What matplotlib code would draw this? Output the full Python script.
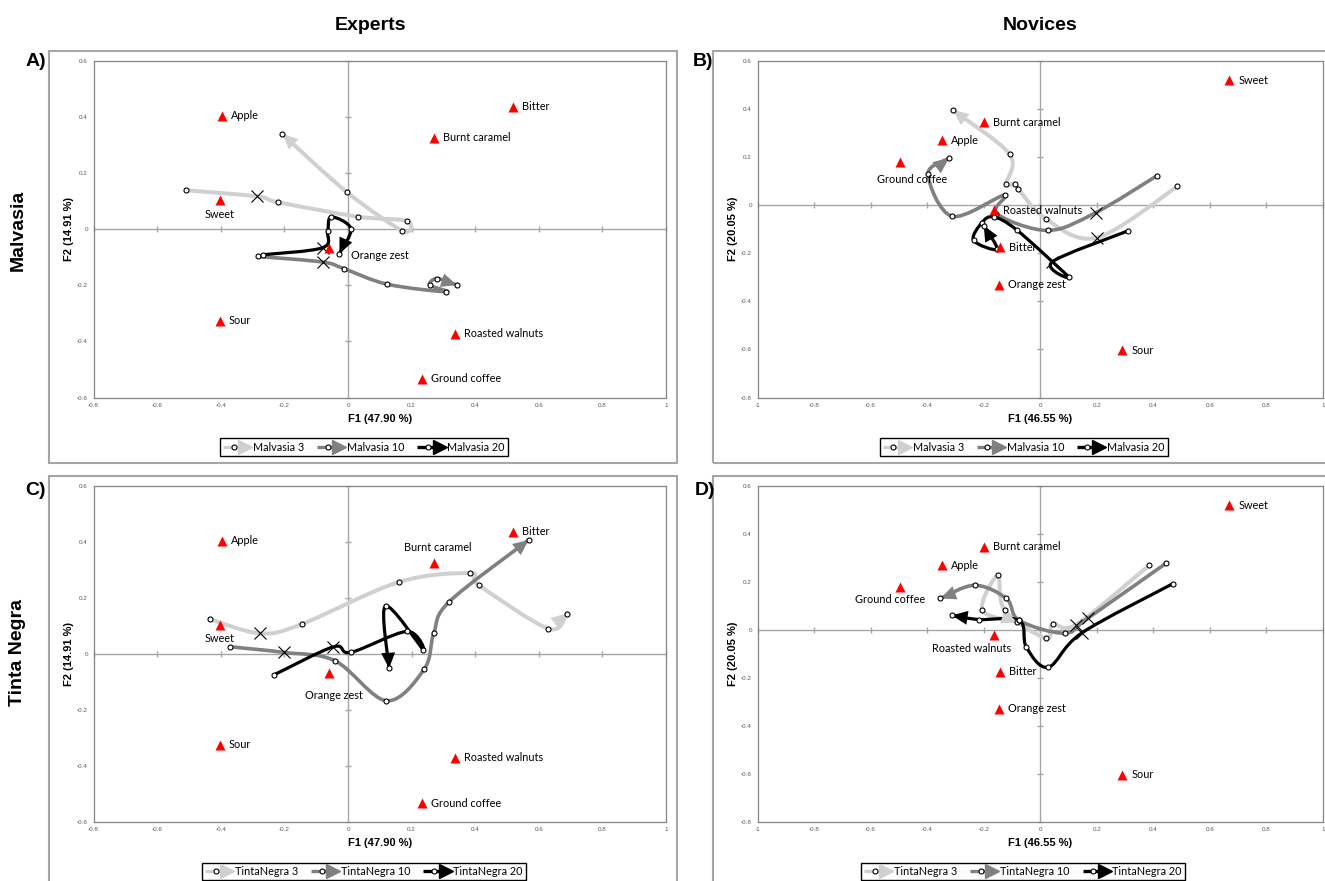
import numpy as np
import matplotlib

matplotlib.use('Agg')
import matplotlib.pyplot as plt
from matplotlib.path import Path
from matplotlib.patches import PathPatch, Rectangle
from matplotlib.lines import Line2D
from matplotlib.legend_handler import HandlerBase
from matplotlib.ticker import FuncFormatter

plt.rcParams['font.family'] = ['Liberation Sans', 'DejaVu Sans']
plt.rcParams['axes.unicode_minus'] = False

# ============================================================
# data
# ============================================================
attr_names = ['Apple', 'Bitter', 'Burnt caramel', 'Sweet', 'Orange zest',
              'Sour', 'Roasted walnuts', 'Ground coffee']

# experts (panels A, C)
exp_attr_x = [-0.395, 0.518, 0.270, -0.404, -0.061, -0.404, 0.336, 0.232]
exp_attr_y = [0.405, 0.437, 0.326, 0.104, -0.068, -0.326, -0.372, -0.534]
# novices (panels B, D)
nov_attr_x = [-0.346, -0.141, -0.198, 0.668, -0.145, 0.290, -0.163, -0.495]
nov_attr_y = [0.270, -0.175, 0.346, 0.520, -0.330, -0.604, -0.020, 0.180]

# trajectories; the 2nd point of every series is the "x" marker
mal3_exp_x = [-0.508, -0.286, -0.219, 0.030, 0.184, 0.171, -0.003, -0.207]
mal3_exp_y = [0.139, 0.117, 0.096, 0.045, 0.030, -0.005, 0.132, 0.340]
mal10_exp_x = [-0.282, -0.080, -0.012, 0.123, 0.309, 0.257, 0.280, 0.342]
mal10_exp_y = [-0.097, -0.117, -0.141, -0.196, -0.223, -0.199, -0.176, -0.199]
mal20_exp_x = [-0.268, -0.080, -0.064, -0.053, 0.009, -0.027]
mal20_exp_y = [-0.091, -0.066, -0.007, 0.044, 0.002, -0.087]

mal3_nov_x = [0.485, 0.200, 0.020, -0.079, -0.091, -0.120, -0.108, -0.309]
mal3_nov_y = [0.078, -0.135, -0.057, 0.069, 0.090, 0.090, 0.212, 0.396]
mal10_nov_x = [0.412, 0.196, 0.026, -0.155, -0.126, -0.312, -0.397, -0.323]
mal10_nov_y = [0.122, -0.031, -0.105, -0.035, 0.042, -0.046, 0.129, 0.195]
mal20_nov_x = [0.310, 0.042, 0.100, -0.082, -0.165, -0.206, -0.236, -0.153, -0.200]
mal20_nov_y = [-0.107, -0.236, -0.297, -0.104, -0.049, -0.072, -0.146, -0.183, -0.085]

tn3_exp_x = [-0.435, -0.276, -0.146, 0.161, 0.384, 0.411, 0.630, 0.688]
tn3_exp_y = [0.124, 0.073, 0.106, 0.257, 0.288, 0.246, 0.090, 0.144]
tn10_exp_x = [-0.370, -0.202, -0.041, 0.121, 0.240, 0.270, 0.319, 0.568]
tn10_exp_y = [0.025, 0.005, -0.025, -0.168, -0.054, 0.076, 0.187, 0.407]
tn20_exp_x = [-0.232, -0.046, 0.009, 0.186, 0.236, 0.118, 0.129]
tn20_exp_y = [-0.075, 0.025, 0.005, 0.080, 0.014, 0.171, -0.052]

tn3_nov_x = [0.386, 0.127, 0.044, 0.020, -0.126, -0.150, -0.205, -0.082]
tn3_nov_y = [0.270, 0.022, 0.026, -0.036, 0.082, 0.227, 0.082, 0.033]
tn10_nov_x = [0.444, 0.170, 0.086, -0.074, -0.120, -0.232, -0.353]
tn10_nov_y = [0.277, 0.050, -0.014, 0.039, 0.131, 0.186, 0.131]
tn20_nov_x = [0.468, 0.147, 0.029, -0.049, -0.074, -0.217, -0.312]
tn20_nov_y = [0.192, -0.013, -0.156, -0.073, 0.039, 0.043, 0.060]

# ============================================================
# styles
# ============================================================
LIGHT, MID, DARK = '#d0d0d0', '#808080', '#000000'
LW = {LIGHT: 2.9, MID: 2.6, DARK: 2.3}

# label placement (offset in pixels, ha)
lab_default = (9, 0, 'left')
lab_A = {'Sweet': (0, -14, 'center'), 'Orange zest': (22, -7, 'left')}
lab_C = {'Sweet': (0, -14, 'center'), 'Burnt caramel': (4, 15, 'center'),
         'Orange zest': (5, -23, 'center')}
lab_B = {'Ground coffee': (12, -18, 'center')}
lab_D = {'Ground coffee': (-10, -13, 'center'), 'Roasted walnuts': (-23, -14, 'center')}


def smooth_path(xs, ys):
    # Catmull-Rom through the points, as cubic bezier pieces
    p = np.column_stack([xs, ys])
    ext = np.vstack([p[0], p, p[-1]])
    verts, codes = [p[0]], [Path.MOVETO]
    for i in range(len(p) - 1):
        p0, p1, p2, p3 = ext[i], ext[i + 1], ext[i + 2], ext[i + 3]
        verts += [p1 + (p2 - p0) / 6, p2 - (p3 - p1) / 6, p2]
        codes += [Path.CURVE4] * 3
    return Path(verts, codes)


def draw_series(ax, xs, ys, color):
    ax.add_patch(PathPatch(smooth_path(xs, ys), facecolor='none', edgecolor=color,
                           lw=LW[color], capstyle='round', joinstyle='round', zorder=2))
    end = np.array([xs[-1], ys[-1]])
    prev = np.array([xs[-2], ys[-2]])
    ax.annotate('', xy=end, xytext=end - 0.04 * (end - prev),
                arrowprops=dict(arrowstyle='-|>,head_length=0.8,head_width=0.36',
                                color=color, lw=0, mutation_scale=14,
                                shrinkA=0, shrinkB=0), zorder=3)
    mx = [v for i, v in enumerate(xs) if i != 1]
    my = [v for i, v in enumerate(ys) if i != 1]
    ax.plot(mx, my, 'o', ms=3.6, mfc='white', mec='black', mew=0.8, zorder=4)
    ax.plot(xs[1], ys[1], 'x', ms=9, color='black', mew=0.8, zorder=4)


class ArrowHandler(HandlerBase):
    def create_artists(self, legend, orig, xdescent, ydescent, width, height, fontsize, trans):
        y = height / 2 - ydescent
        x0 = -xdescent
        c = orig.get_color()
        line = Line2D([x0, x0 + width * 0.8], [y, y], color=c, lw=2.4, solid_capstyle='butt')
        head = Line2D([x0 + width * 0.85], [y], marker='>', ms=10, color=c, mec=c, linestyle='none')
        dot = Line2D([x0 + width * 0.4], [y], marker='o', ms=3.6, mfc='white', mec='black',
                     mew=0.8, linestyle='none')
        for a in (line, head, dot):
            a.set_transform(trans)
        return [line, head, dot]


def tick_fmt(v, _):
    return '0' if abs(v) < 1e-9 else f'{round(v, 1):g}'


fig = plt.figure(figsize=(13.25, 8.81), dpi=100)

# panel frames
for fx0, fy0, fx1, fy1 in [(49, 51, 677, 463), (713, 51, 1340, 463),
                           (49, 476, 677, 900), (713, 476, 1340, 900)]:
    fig.add_artist(Rectangle((fx0 / 1325, 1 - fy1 / 881), (fx1 - fx0) / 1325, (fy1 - fy0) / 881,
                             transform=fig.transFigure, fill=False, edgecolor='#a6a6a6', lw=1.5))

panels = [
    dict(rect=[0.0706, 0.5488, 0.4321, 0.3820], xlim=(-0.8, 1.0), ylim=(-0.6, 0.6),
         ax_x=exp_attr_x, ax_y=exp_attr_y, labs=lab_A, xl='F1 (47.90 %)', yl='F2 (14.91 %)',
         series=[(mal3_exp_x, mal3_exp_y, LIGHT), (mal10_exp_x, mal10_exp_y, MID),
                 (mal20_exp_x, mal20_exp_y, DARK)],
         names=['Malvasia 3', 'Malvasia 10', 'Malvasia 20'], leg=(0.2747, 0.4926)),
    dict(rect=[0.5717, 0.5488, 0.4268, 0.3820], xlim=(-1.0, 1.0), ylim=(-0.8, 0.6),
         ax_x=nov_attr_x, ax_y=nov_attr_y, labs=lab_B, xl='F1 (46.55 %)', yl='F2 (20.05 %)',
         series=[(mal3_nov_x, mal3_nov_y, LIGHT), (mal10_nov_x, mal10_nov_y, MID),
                 (mal20_nov_x, mal20_nov_y, DARK)],
         names=['Malvasia 3', 'Malvasia 10', 'Malvasia 20'], leg=(0.7725, 0.4926)),
    dict(rect=[0.0706, 0.0675, 0.4321, 0.3808], xlim=(-0.8, 1.0), ylim=(-0.6, 0.6),
         ax_x=exp_attr_x, ax_y=exp_attr_y, labs=lab_C, xl='F1 (47.90 %)', yl='F2 (14.91 %)',
         series=[(tn3_exp_x, tn3_exp_y, LIGHT), (tn10_exp_x, tn10_exp_y, MID),
                 (tn20_exp_x, tn20_exp_y, DARK)],
         names=['TintaNegra 3', 'TintaNegra 10', 'TintaNegra 20'], leg=(0.2747, 0.0108)),
    dict(rect=[0.5717, 0.0675, 0.4268, 0.3808], xlim=(-1.0, 1.0), ylim=(-0.8, 0.6),
         ax_x=nov_attr_x, ax_y=nov_attr_y, labs=lab_D, xl='F1 (46.55 %)', yl='F2 (20.05 %)',
         series=[(tn3_nov_x, tn3_nov_y, LIGHT), (tn10_nov_x, tn10_nov_y, MID),
                 (tn20_nov_x, tn20_nov_y, DARK)],
         names=['TintaNegra 3', 'TintaNegra 10', 'TintaNegra 20'], leg=(0.7721, 0.0108)),
]

for p in panels:
    ax = fig.add_axes(p['rect'])
    ax.set_xlim(*p['xlim'])
    ax.set_ylim(*p['ylim'])
    xt = np.round(np.arange(p['xlim'][0], p['xlim'][1] + 0.01, 0.2), 1)
    yt = np.round(np.arange(p['ylim'][0], p['ylim'][1] + 0.01, 0.2), 1)
    ax.set_xticks(xt)
    ax.set_yticks(yt)
    ax.xaxis.set_major_formatter(FuncFormatter(tick_fmt))
    ax.yaxis.set_major_formatter(FuncFormatter(tick_fmt))
    ax.tick_params(length=0, labelsize=4.5, labelcolor='#595959', pad=4)
    for s in ax.spines.values():
        s.set_color('#868686')
        s.set_linewidth(0.9)

    # zero lines with crossing ticks
    ax.axhline(0, color='#a6a6a6', lw=1.0, zorder=1)
    ax.axvline(0, color='#a6a6a6', lw=1.0, zorder=1)
    ax.plot(xt, np.zeros_like(xt), '|', ms=5, color='#a6a6a6', mew=1.0, zorder=1, clip_on=False)
    ax.plot(np.zeros_like(yt), yt, '_', ms=5, color='#a6a6a6', mew=1.0, zorder=1, clip_on=False)

    for xs, ys, c in p['series']:
        draw_series(ax, xs, ys, c)

    ax.plot(p['ax_x'], p['ax_y'], '^', ms=7.5, color='#ff0000', mec='none', zorder=5)
    for name, x, y in zip(attr_names, p['ax_x'], p['ax_y']):
        dx, dy, ha = p['labs'].get(name, lab_default)
        ax.annotate(name, (x, y), xytext=(dx, dy), textcoords='offset pixels',
                    ha=ha, va='center', fontsize=7.8, family=['Lato', 'DejaVu Sans'], zorder=6)

    ax.set_xlabel(p['xl'], fontsize=8, fontweight='bold')
    ax.set_ylabel(p['yl'], fontsize=8, fontweight='bold')
    ax.xaxis.set_label_coords(0.5, -0.048)
    ax.yaxis.set_label_coords(-0.034, 0.5)

    handles = [Line2D([], [], color=c) for _, _, c in p['series']]
    leg = fig.legend(handles, p['names'], loc='center', bbox_to_anchor=p['leg'],
                     ncol=3, handler_map={Line2D: ArrowHandler()},
                     prop={'family': ['Lato', 'DejaVu Sans'], 'size': 7.8},
                     frameon=True, fancybox=False, framealpha=1, edgecolor='black',
                     handlelength=2.4, handletextpad=0.35, columnspacing=1.2,
                     borderpad=0.3)
    leg.get_frame().set_linewidth(1.0)

# titles
fig.text(370 / 1325, 1 - 26 / 881, 'Experts', ha='center', va='center', fontsize=14, fontweight='bold')
fig.text(1040 / 1325, 1 - 26 / 881, 'Novices', ha='center', va='center', fontsize=14, fontweight='bold')
fig.text(18 / 1325, 1 - 230 / 881, 'Malvasia', ha='center', va='center', rotation=90,
         fontsize=14, fontweight='bold')
fig.text(18 / 1325, 1 - 653 / 881, 'Tinta Negra', ha='center', va='center', rotation=90,
         fontsize=14, fontweight='bold')
for lbl, lx, ly in [('A)', 36, 62), ('B)', 703, 62), ('C)', 36, 490), ('D)', 705, 490)]:
    fig.text(lx / 1325, 1 - ly / 881, lbl, ha='center', va='center', fontsize=14, fontweight='bold')

fig.savefig('out.png', dpi=100, facecolor='white')
